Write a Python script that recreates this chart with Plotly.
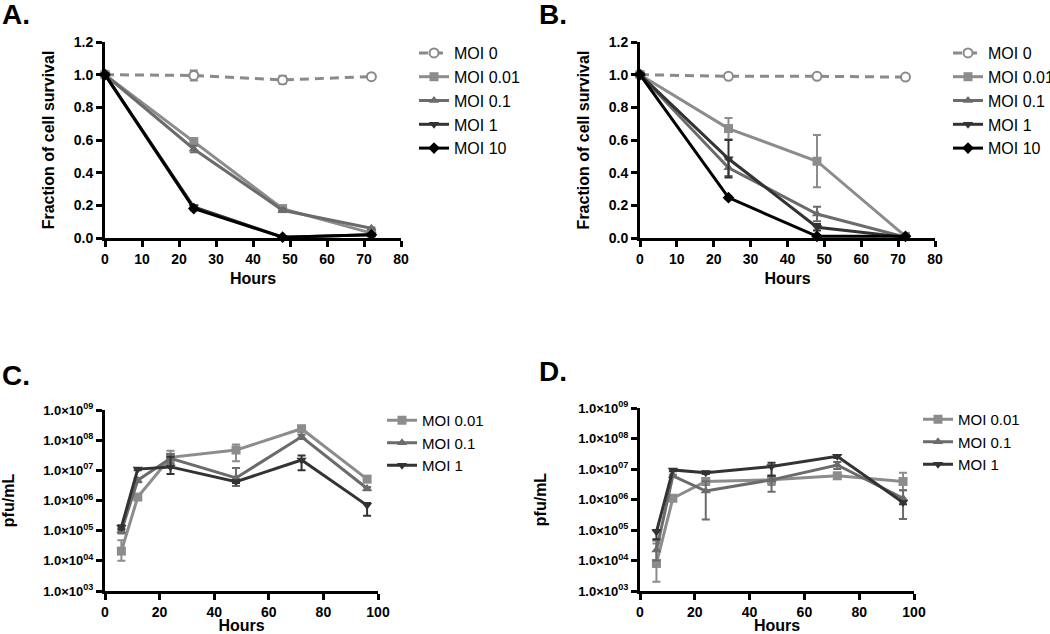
import plotly.graph_objects as go

# ---------------- data ----------------
hours_surv = [0, 24, 48, 72]
surv_labels = ["MOI 0", "MOI 0.01", "MOI 0.1", "MOI 1", "MOI 10"]

A_moi0 = [1.0, 0.995, 0.968, 0.988]
A_moi0_err = [0, 0.03, 0.025, 0.005]
A_moi001 = [1.0, 0.59, 0.18, 0.03]
A_moi001_err = [0, 0.02, 0.015, 0.01]
A_moi01 = [1.0, 0.545, 0.17, 0.06]
A_moi01_err = [0, 0.02, 0.01, 0.005]
A_moi1 = [1.0, 0.19, 0.005, 0.02]
A_moi1_err = [0, 0.01, 0.003, 0.005]
A_moi10 = [1.0, 0.18, 0.005, 0.02]
A_moi10_err = [0, 0.01, 0.003, 0.005]

B_moi0 = [1.0, 0.99, 0.99, 0.985]
B_moi0_err = [0, 0.005, 0.005, 0.005]
B_moi001 = [1.0, 0.67, 0.47, 0.01]
B_moi001_err = [0, 0.065, 0.16, 0.005]
B_moi01 = [1.0, 0.43, 0.147, 0.005]
B_moi01_err = [0, 0.05, 0.045, 0.003]
B_moi1 = [1.0, 0.485, 0.066, 0.005]
B_moi1_err = [0, 0.115, 0.02, 0.003]
B_moi10 = [1.0, 0.247, 0.01, 0.01]
B_moi10_err = [0, 0.005, 0.003, 0.003]

hours_titer = [6, 12, 24, 48, 72, 96]
titer_labels = ["MOI 0.01", "MOI 0.1", "MOI 1"]

C_001 = [2.1e4, 1.3e6, 2.7e7, 4.7e7, 2.4e8, 5.1e6]
C_001_hi = [4.8e4, 1.5e6, 4.5e7, 7.2e7, 2.6e8, 5.5e6]
C_001_lo = [1.0e4, 1.1e6, 1.6e7, 2.0e7, 2.2e8, 4.7e6]
C_01 = [1.0e5, 4.7e6, 2.5e7, 5.6e6, 1.3e8, 2.5e6]
C_01_hi = [1.2e5, 5.5e6, 3.5e7, 1.2e7, 1.5e8, 2.8e6]
C_01_lo = [8.0e4, 4.0e6, 1.8e7, 3.0e6, 1.1e8, 2.2e6]
C_1 = [1.3e5, 1.1e7, 1.3e7, 4.2e6, 2.2e7, 6.9e5]
C_1_hi = [1.5e5, 1.2e7, 2.8e7, 4.6e6, 3.1e7, 8.3e5]
C_1_lo = [1.1e5, 1.0e7, 7.5e6, 3.8e6, 1.0e7, 3.1e5]

D_001 = [8.0e3, 1.1e6, 3.9e6, 4.4e6, 6.0e6, 3.9e6]
D_001_hi = [3.6e4, 1.3e6, 5.0e6, 6.0e6, 7.0e6, 7.6e6]
D_001_lo = [2.0e3, 9.0e5, 3.0e6, 3.0e6, 5.0e6, 2.0e6]
D_01 = [2.2e4, 6.0e6, 1.9e6, 4.4e6, 1.35e7, 1.1e6]
D_01_hi = [4.5e4, 6.5e6, 4.0e6, 6.0e6, 1.7e7, 2.0e6]
D_01_lo = [1.0e4, 5.5e6, 2.2e5, 1.8e6, 1.0e7, 2.3e5]
D_1 = [8.7e4, 9.3e6, 7.6e6, 1.2e7, 2.6e7, 8.0e5]
D_1_hi = [1.0e5, 1.0e7, 8.5e6, 1.6e7, 2.9e7, 9.0e5]
D_1_lo = [5.0e4, 8.5e6, 6.8e6, 6.0e6, 2.3e7, 7.0e5]

log_tickvals = [1e3, 1e4, 1e5, 1e6, 1e7, 1e8, 1e9]
log_ticktext = ["1.0×10<sup>03</sup>", "1.0×10<sup>04</sup>", "1.0×10<sup>05</sup>",
                "1.0×10<sup>06</sup>", "1.0×10<sup>07</sup>", "1.0×10<sup>08</sup>",
                "1.0×10<sup>09</sup>"]

# ---------------- styles ----------------
FONT = "Liberation Sans, Arial, sans-serif"
c0, c001, c01, c1, c10 = "#8a8a8a", "#8c8c8c", "#6b6b6b", "#333333", "#000000"
syms = ["circle", "square", "triangle-up", "triangle-down", "diamond"]
surv_colors = [c0, c001, c01, c1, c10]
titer_colors = [c001, c01, c1]

fig = go.Figure()

def add_surv(xa, ya, leg, series, errs):
    for i, (vals, err) in enumerate(zip(series, errs)):
        col = surv_colors[i]
        marker = dict(symbol=syms[i], size=9, color=col, line=dict(width=0))
        if i == 0:
            marker = dict(symbol="circle", size=9, color="white", line=dict(color=col, width=2))
        fig.add_trace(go.Scatter(
            x=hours_surv, y=vals, name=surv_labels[i], mode="lines+markers",
            xaxis=xa, yaxis=ya, legend=leg, showlegend=True,
            line=dict(color=col, width=3, dash="9px,6px" if i == 0 else "solid"),
            marker=marker, cliponaxis=False,
            error_y=dict(type="data", array=err, color=col, thickness=2, width=4, visible=True),
        ))

add_surv("x", "y", "legend",
         [A_moi0, A_moi001, A_moi01, A_moi1, A_moi10],
         [A_moi0_err, A_moi001_err, A_moi01_err, A_moi1_err, A_moi10_err])
add_surv("x2", "y2", "legend2",
         [B_moi0, B_moi001, B_moi01, B_moi1, B_moi10],
         [B_moi0_err, B_moi001_err, B_moi01_err, B_moi1_err, B_moi10_err])

def add_titer(xa, ya, leg, series):
    for i, (vals, hi, lo) in enumerate(series):
        col = titer_colors[i]
        fig.add_trace(go.Scatter(
            x=hours_titer, y=vals, name=titer_labels[i], mode="lines+markers",
            xaxis=xa, yaxis=ya, legend=leg,
            line=dict(color=col, width=3),
            marker=dict(symbol=syms[i + 1], size=9, color=col),
            cliponaxis=False,
            error_y=dict(type="data", symmetric=False,
                         array=[h - v for h, v in zip(hi, vals)],
                         arrayminus=[v - l for v, l in zip(vals, lo)],
                         color=col, thickness=2, width=4),
        ))

add_titer("x3", "y3", "legend3", [(C_001, C_001_hi, C_001_lo), (C_01, C_01_hi, C_01_lo), (C_1, C_1_hi, C_1_lo)])
add_titer("x4", "y4", "legend4", [(D_001, D_001_hi, D_001_lo), (D_01, D_01_hi, D_01_lo), (D_1, D_1_hi, D_1_lo)])

W, H = 1050, 634
def px(xp): return xp / W
def py(yp): return 1 - yp / H

axis_common = dict(showline=True, linecolor="black", linewidth=3, ticks="outside",
                   tickwidth=2.5, ticklen=6, tickcolor="black", showgrid=False, zeroline=False,
                   tickfont=dict(family=FONT, size=14, color="black", weight="bold"),
                   mirror=False, automargin=False)
title_font = dict(family=FONT, size=16, color="black", weight="bold")

lay = dict(
    width=W, height=H, margin=dict(l=0, r=0, t=0, b=0, autoexpand=False),
    paper_bgcolor="white", plot_bgcolor="white",
    font=dict(family=FONT, color="black"),
    xaxis=dict(domain=[px(105), px(401)], anchor="y", range=[0, 80], dtick=10,
               title=dict(text="Hours", font=title_font, standoff=8), **axis_common),
    yaxis=dict(domain=[py(238), py(42)], anchor="x", range=[0, 1.2], dtick=0.2, tickformat=".1f",
               title=dict(text="Fraction of cell survival", font=title_font, standoff=16), **axis_common),
    xaxis2=dict(domain=[px(640), px(935)], anchor="y2", range=[0, 80], dtick=10,
                title=dict(text="Hours", font=title_font, standoff=8), **axis_common),
    yaxis2=dict(domain=[py(238), py(42)], anchor="x2", range=[0, 1.2], dtick=0.2, tickformat=".1f",
                title=dict(text="Fraction of cell survival", font=title_font, standoff=16), **axis_common),
)
ax_log = dict(axis_common)
ax_log["tickfont"] = dict(family=FONT, size=13, color="black", weight="bold")
lay.update(
    xaxis3=dict(domain=[px(105), px(378)], anchor="y3", range=[0, 100], dtick=20,
                title=dict(text="Hours", font=title_font, standoff=11), **axis_common),
    yaxis3=dict(domain=[py(591), py(410)], anchor="x3", type="log", range=[3, 9],
                tickvals=log_tickvals, ticktext=log_ticktext,
                title=dict(text="pfu/mL", font=title_font, standoff=28), **ax_log),
    xaxis4=dict(domain=[px(640), px(914)], anchor="y4", range=[0, 100], dtick=20,
                title=dict(text="Hours", font=title_font, standoff=11), **axis_common),
    yaxis4=dict(domain=[py(591), py(408)], anchor="x4", type="log", range=[3, 9],
                tickvals=log_tickvals, ticktext=log_ticktext,
                title=dict(text="pfu/mL", font=title_font, standoff=28), **ax_log),
)
leg_common = dict(bgcolor="rgba(0,0,0,0)", xanchor="left", yanchor="top",
                  tracegroupgap=0, itemwidth=30)
leg_font16 = dict(family=FONT, size=16, color="black")
leg_font15 = dict(family=FONT, size=15, color="black")
lay["legend"] = dict(x=px(414), y=py(36), font=leg_font16, **leg_common)
lay["legend2"] = dict(x=px(948), y=py(36), font=leg_font16, **leg_common)
lay["legend3"] = dict(x=px(382), y=py(404), font=leg_font15, **leg_common)
lay["legend4"] = dict(x=px(918), y=py(403), font=leg_font15, **leg_common)

letter_font = dict(family=FONT, size=28, color="black", weight="bold")
ann = []
for txt, xx, yy in [("A.", 0, -3), ("B.", 537, -3), ("C.", 0, 358), ("D.", 537, 354)]:
    ann.append(dict(text=txt, x=px(xx), y=py(yy), xref="paper", yref="paper",
                    xanchor="left", yanchor="top", showarrow=False, font=letter_font))
lay["annotations"] = ann

fig.update_layout(**lay)
fig.write_html("out.html", config={"displayModeBar": False},
               post_script="document.body.style.margin='0px';")
